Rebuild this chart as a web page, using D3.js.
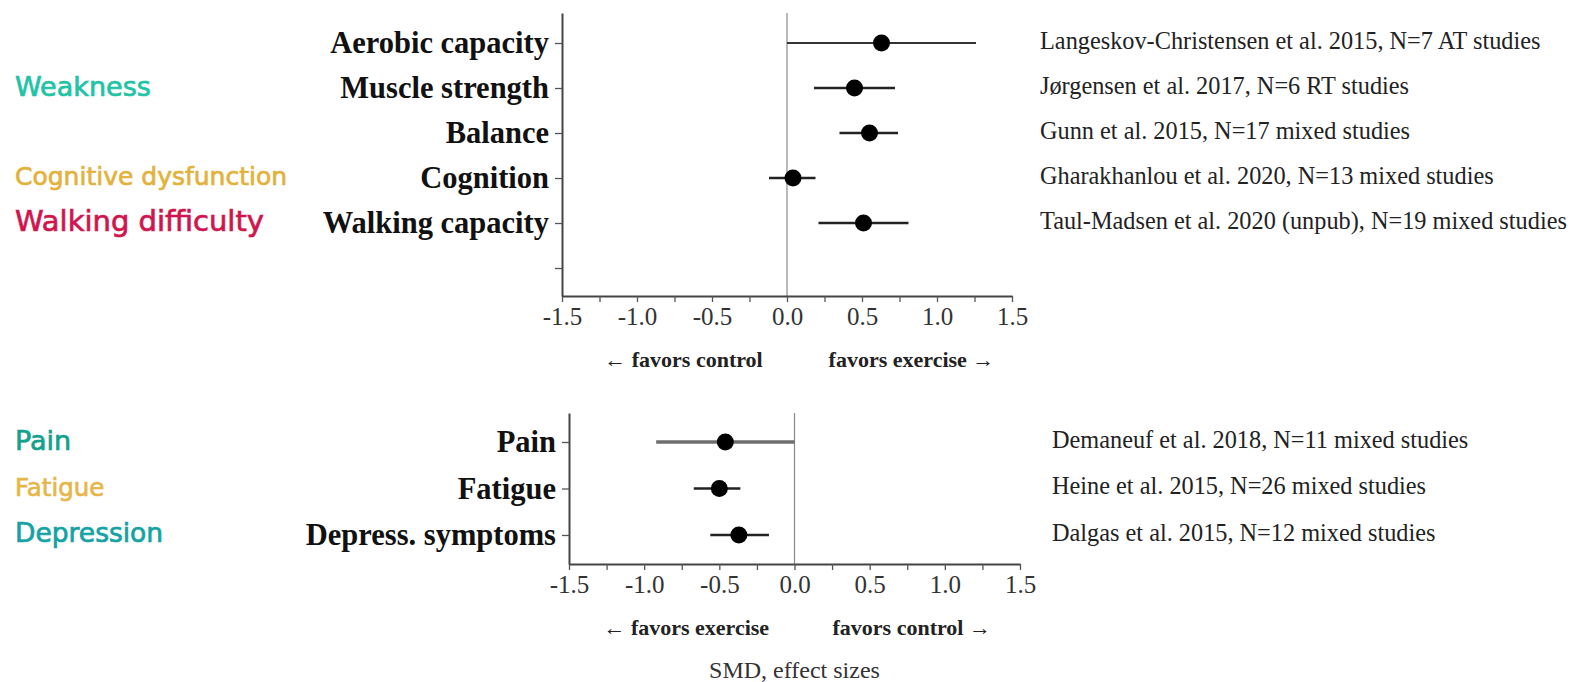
<!DOCTYPE html>
<html><head><meta charset="utf-8">
<script src="https://cdn.jsdelivr.net/npm/d3@7"></script>
<style>
body{margin:0;background:#fff;}
svg{display:block;}
</style></head>
<body>
<script>
// ---- data ----
const topCategories = ["Aerobic capacity","Muscle strength","Balance","Cognition","Walking capacity",""];
const topEst   = [0.63, 0.45, 0.55, 0.04, 0.51];
const topLow   = [0.00, 0.18, 0.35, -0.12, 0.21];
const topHigh  = [1.26, 0.72, 0.74, 0.19, 0.81];
const topRefs  = ["Langeskov-Christensen et al. 2015, N=7 AT studies",
                  "Jørgensen et al. 2017, N=6 RT studies",
                  "Gunn et al. 2015, N=17 mixed studies",
                  "Gharakhanlou et al. 2020, N=13 mixed studies",
                  "Taul-Madsen et al. 2020 (unpub), N=19 mixed studies"];
const topGroupLabels = ["Weakness", "Cognitive dysfunction", "Walking difficulty"];
const topGroupRows   = [1, 3, 4];

const botCategories = ["Pain","Fatigue","Depress. symptoms"];
const botEst   = [-0.46, -0.50, -0.37];
const botLow   = [-0.92, -0.67, -0.56];
const botHigh  = [0.00, -0.36, -0.17];
const botRefs  = ["Demaneuf et al. 2018, N=11 mixed studies",
                  "Heine et al. 2015, N=26 mixed studies",
                  "Dalgas et al. 2015, N=12 mixed studies"];
const botGroupLabels = ["Pain", "Fatigue", "Depression"];
const botGroupRows   = [0, 1, 2];

const xTickValues = d3.range(-6, 7).map(d => d * 0.25);
const xMajor = [-1.5,-1.0,-0.5,0,0.5,1.0,1.5];
const topDirLabels = ["← favors control", "favors exercise →"];
const botDirLabels = ["← favors exercise", "favors control →"];
const xTitle = "SMD, effect sizes";

// ---- styles ----
const topGroupColors = ["#22c3a5", "#e2b23c", "#d0154e"];
const topGroupSizes  = [27, 25, 29];
const botGroupColors = ["#14a08e", "#e6b64a", "#14a2a4"];
const botGroupSizes  = [27, 24.5, 26.5];
const topCiStroke = ["#333","#222","#222","#222","#222"];
const topCiWidth  = [1.8, 2.6, 2.6, 2.6, 2.6];
const botCiStroke = ["#6e6e6e","#222","#222"];
const botCiWidth  = [3.6, 2.6, 2.6];

// ---- drawing ----
const W = 1571, H = 682;
const svg = d3.select("body").append("svg").attr("width", W).attr("height", H);

const serif = "'Liberation Serif','Times New Roman',serif";
const sans = "'DejaVu Sans',Lato,sans-serif";

function fmt(v){
  if (!xMajor.some(m => Math.abs(m - v) < 1e-9)) return "";
  return v.toFixed(1).replace("−","-");
}

function panel(cfg){
  const x = d3.scaleLinear().domain([-1.5, 1.5]).range(cfg.xr);
  const y = d3.scaleLinear().domain(cfg.yd).range(cfg.yr);
  const g = svg.append("g");

  g.append("line")
    .attr("x1", x(0)).attr("x2", x(0))
    .attr("y1", cfg.yr[0]).attr("y2", cfg.yr[1])
    .attr("stroke", "#8a8a8a").attr("stroke-width", 1.2);

  const xa = g.append("g").attr("transform", `translate(0,${cfg.yr[1]})`)
    .call(d3.axisBottom(x).tickValues(xTickValues).tickFormat(fmt).tickSize(6).tickSizeOuter(0).tickPadding(5));
  xa.select(".domain").attr("stroke", "#444").attr("stroke-width", 2);
  xa.selectAll(".tick line").attr("stroke", "#555").attr("stroke-width", 1.3);
  xa.selectAll("text").attr("font-family", serif).attr("font-size", 25).attr("fill", "#333");

  const ya = g.append("g").attr("transform", `translate(${cfg.xr[0]},0)`)
    .call(d3.axisLeft(y).tickValues(d3.range(cfg.cats.length)).tickFormat(i => cfg.cats[i])
      .tickSize(7).tickSizeOuter(0).tickPadding(6));
  ya.select(".domain").attr("stroke", "#444").attr("stroke-width", 2);
  ya.selectAll(".tick line").attr("stroke", "#555").attr("stroke-width", 1.3);
  ya.selectAll("text").attr("font-family", serif).attr("font-size", 30.5)
    .attr("font-weight", "bold").attr("fill", "#111");

  g.selectAll(".ci").data(cfg.est).enter().append("line")
    .attr("x1", (d,i) => x(cfg.low[i])).attr("x2", (d,i) => x(cfg.high[i]))
    .attr("y1", (d,i) => y(i)).attr("y2", (d,i) => y(i))
    .attr("stroke", (d,i) => cfg.ciStroke[i]).attr("stroke-width", (d,i) => cfg.ciWidth[i]);
  g.selectAll(".pt").data(cfg.est).enter().append("circle")
    .attr("cx", d => x(d)).attr("cy", (d,i) => y(i)).attr("r", 8.5).attr("fill", "#000");

  g.selectAll(".dir").data(cfg.dir).enter().append("text")
    .attr("x", (d,i) => x(cfg.dirAt[i]))
    .attr("y", cfg.dirY).attr("text-anchor", "middle").attr("dominant-baseline","middle")
    .attr("font-family", serif).attr("font-weight", "bold").attr("font-size", 22).attr("fill", "#222")
    .text(d => d);

  g.selectAll(".ref").data(cfg.refs).enter().append("text")
    .attr("x", cfg.refX).attr("y", (d,i) => y(i)).attr("dominant-baseline", "middle")
    .attr("font-family", serif).attr("font-size", 24.3).attr("fill", "#222")
    .text(d => d);

  g.selectAll(".grp").data(cfg.groups).enter().append("text")
    .attr("x", 15).attr("y", (d,i) => y(cfg.groupRows[i])).attr("dominant-baseline", "middle")
    .attr("font-family", sans).attr("font-size", (d,i) => cfg.groupSizes[i])
    .attr("fill", (d,i) => cfg.groupColors[i])
    .attr("stroke", (d,i) => cfg.groupColors[i]).attr("stroke-width", 0.7)
    .text(d => d);
  return x;
}

panel({xr:[562,1012], yd:[-0.667, 5.622], yr:[13,296], cats:topCategories,
  est:topEst, low:topLow, high:topHigh, refs:topRefs, refX:1040,
  dir:topDirLabels, dirAt:[-0.69, 0.83], dirY:362,
  groups:topGroupLabels, groupRows:topGroupRows, groupColors:topGroupColors, groupSizes:topGroupSizes,
  ciStroke:topCiStroke, ciWidth:topCiWidth});
const x2 = panel({xr:[569,1020], yd:[-0.624, 2.624], yr:[413,564], cats:botCategories,
  est:botEst, low:botLow, high:botHigh, refs:botRefs, refX:1052,
  dir:botDirLabels, dirAt:[-0.72, 0.78], dirY:630,
  groups:botGroupLabels, groupRows:botGroupRows, groupColors:botGroupColors, groupSizes:botGroupSizes,
  ciStroke:botCiStroke, ciWidth:botCiWidth});

svg.append("text").attr("x", x2(0)).attr("y", 672).attr("text-anchor", "middle")
  .attr("dominant-baseline","middle")
  .attr("font-family", serif).attr("font-size", 24).attr("fill", "#333").text(xTitle);
</script>
</body></html>
